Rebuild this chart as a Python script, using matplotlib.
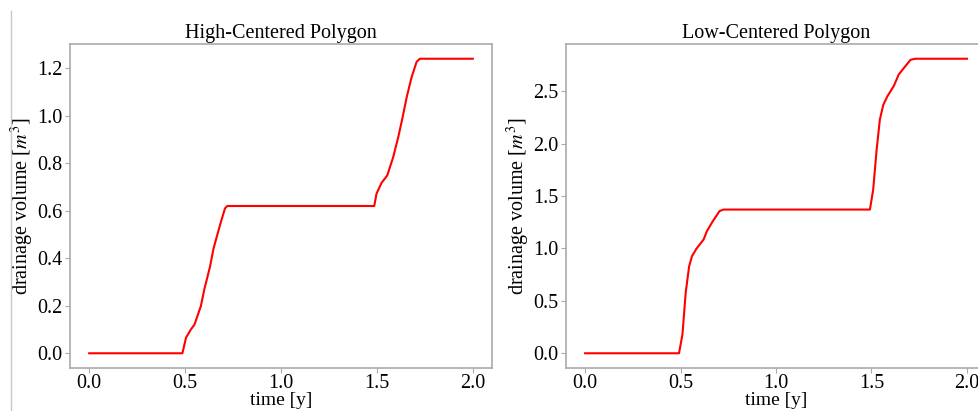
import numpy as np
import matplotlib.pyplot as plt
from matplotlib.lines import Line2D

plt.rcParams['font.family'] = ['Liberation Serif', 'DejaVu Serif']
plt.rcParams['mathtext.fontset'] = 'stix'

# High-centered polygon drainage volume
hc_time = [0.0, 0.486, 0.505, 0.53, 0.549, 0.582, 0.60, 0.63, 0.648, 0.682, 0.708, 0.72,
           1.486, 1.498, 1.524, 1.554, 1.585, 1.611, 1.632, 1.655, 1.68, 1.707, 1.724, 2.0]
hc_vol = [0.0, 0.0, 0.066, 0.10, 0.121, 0.198, 0.268, 0.365, 0.44, 0.54, 0.61, 0.62,
          0.62, 0.672, 0.717, 0.749, 0.826, 0.909, 0.986, 1.077, 1.16, 1.227, 1.24, 1.24]

# Low-centered polygon drainage volume
lc_time = [0.0, 0.492, 0.51, 0.527, 0.545, 0.56, 0.583, 0.621, 0.638, 0.669, 0.704, 0.725,
           1.492, 1.509, 1.527, 1.544, 1.562, 1.583, 1.617, 1.643, 1.678, 1.705, 1.73, 2.0]
lc_vol = [0.0, 0.0, 0.18, 0.578, 0.83, 0.927, 0.997, 1.086, 1.165, 1.26, 1.356, 1.371,
          1.371, 1.56, 1.94, 2.23, 2.37, 2.45, 2.55, 2.66, 2.74, 2.80, 2.81, 2.81]

W, H = 979, 411
fig = plt.figure(figsize=(W / 100, H / 100), dpi=100)
ax1 = fig.add_axes([70 / W, (H - 368) / H, 422 / W, 324 / H])
ax2 = fig.add_axes([566 / W, (H - 368) / H, 420 / W, 324 / H])

for ax, t, v, title in [(ax1, hc_time, hc_vol, 'High-Centered Polygon'),
                        (ax2, lc_time, lc_vol, 'Low-Centered Polygon')]:
    ax.plot(t, v, color='red', linewidth=1.5)
    ax.set_title(title, fontsize=14.5, pad=4)
    ax.set_xlabel('time [y]', fontsize=14, labelpad=-1)
    ax.set_ylabel('drainage volume [$m^3$]', fontsize=14.5, labelpad=1)
    ax.set_xticks([0.0, 0.5, 1.0, 1.5, 2.0])
    ax.tick_params(labelsize=14.5, color='#aaaaaa', length=3.5, pad=2)
    ax.tick_params(axis='x', pad=1)
    for s in ax.spines.values():
        s.set_color('#aaaaaa')
        s.set_linewidth(1.2)

ax1.set_yticks([0.0, 0.2, 0.4, 0.6, 0.8, 1.0, 1.2])
ax2.set_yticks([0.0, 0.5, 1.0, 1.5, 2.0, 2.5])

fig.add_artist(Line2D([11 / W, 11 / W], [0, 1 - 11 / H], color='#c8c8c8', linewidth=1))

fig.savefig('out.png', dpi=100)
